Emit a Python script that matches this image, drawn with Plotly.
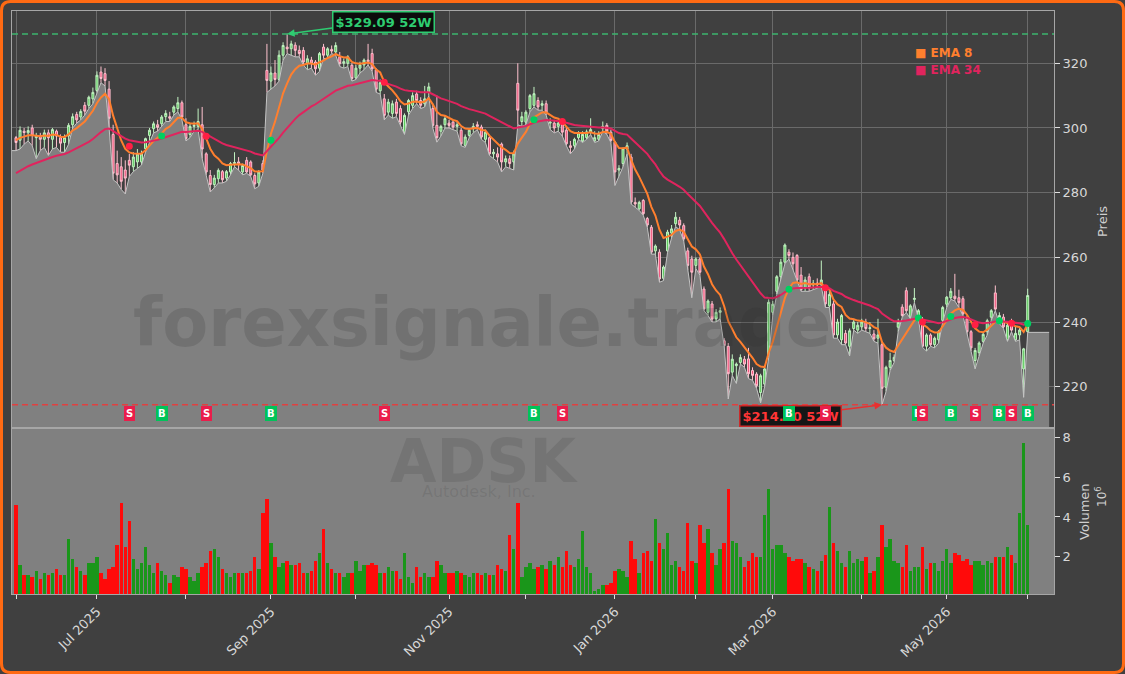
import plotly.graph_objects as go
from plotly.subplots import make_subplots

# ---------------- data ----------------
ticker = "ADSK"
company = "Autodesk, Inc."
watermark = "forexsignale.trade"

opens = [
    297.0, 296.2, 299.0, 298.5, 300.0, 297.0, 297.5, 296.5, 298.5, 296.5,
    299.0, 297.0, 295.5, 297.5, 301.0, 304.2, 303.4, 307.0, 307.0, 309.0,
    311.6, 317.3, 316.8, 312.0, 298.0, 289.0, 288.0, 287.0, 290.0, 288.0,
    289.5, 289.5, 293.6, 297.7, 299.8, 301.0, 301.3, 303.5, 303.5, 304.9,
    306.0, 307.8, 301.0, 298.0, 300.5, 300.5, 301.0, 292.0, 285.3, 282.5,
    284.3, 286.5, 284.5, 286.4, 289.0, 289.5, 286.4, 290.0, 289.5, 285.3,
    283.0, 289.0, 317.8, 314.5, 317.0, 315.0, 322.5, 325.0, 324.5, 325.6,
    324.0, 324.0, 320.0, 321.0, 320.4, 318.5, 325.0, 322.5, 324.3, 323.5,
    322.0, 320.0, 320.0, 319.4, 315.5, 318.5, 319.5, 321.0, 323.0, 318.0,
    311.5, 309.0, 304.9, 304.5, 308.0, 306.0, 298.7, 305.0, 307.0, 310.5,
    308.5, 307.5, 311.1, 306.0, 300.8, 299.0, 301.0, 301.5, 301.8, 300.5,
    299.3, 294.6, 297.7, 299.8, 301.0, 300.3, 296.5, 297.0, 292.0, 292.0,
    295.0, 289.5, 290.5, 289.5, 313.8, 302.0, 301.8, 306.0, 307.0, 308.5,
    307.0, 307.5, 301.5, 301.5, 300.5, 301.8, 299.3, 294.5, 294.5, 297.0,
    296.0, 297.0, 298.7, 296.0, 296.5, 299.8, 300.8, 298.7, 295.6, 287.0,
    289.0, 293.5, 291.0, 277.0, 275.0, 277.6, 272.0, 269.3, 262.0, 261.6,
    253.5, 262.0, 267.5, 270.4, 271.5, 269.8, 262.0, 259.5, 257.5, 259.5,
    250.2, 243.0, 245.6, 241.0, 243.0, 234.2, 232.5, 224.5, 226.5, 227.5,
    228.5, 228.6, 225.0, 223.9, 218.2, 220.8, 229.6, 243.0, 249.5, 254.0,
    258.5, 261.6, 260.0, 260.6, 254.5, 250.5, 254.0, 251.5, 252.0, 251.5,
    250.3, 245.0, 245.6, 236.0, 234.5, 236.5, 232.5, 238.0, 237.5, 238.5,
    240.0, 238.0, 236.3, 235.0, 233.0, 219.8, 226.0, 228.1, 238.4, 244.6,
    249.7, 241.5, 247.0, 241.5, 240.5, 232.5, 236.0, 233.0, 234.5, 240.5,
    245.5, 247.5, 248.0, 247.5, 247.2, 241.0, 237.0, 228.1, 230.5, 234.0,
    237.0, 241.5, 249.0, 240.5, 241.5, 234.5, 240.0, 234.5, 236.0, 225.5,
    237.0,
]
highs = [
    297.5, 300.5, 300.0, 300.5, 301.0, 298.5, 298.5, 299.5, 299.5, 300.0,
    299.5, 298.0, 298.0, 301.5, 304.5, 305.0, 305.8, 308.0, 310.0, 312.5,
    317.5, 319.0, 318.5, 314.5, 301.0, 293.0, 291.0, 290.0, 292.0, 292.5,
    293.5, 293.0, 297.0, 300.0, 302.0, 302.5, 304.0, 305.5, 305.0, 307.0,
    309.6, 308.5, 303.0, 301.5, 302.0, 306.0, 306.5, 292.5, 287.0, 285.5,
    287.5, 287.0, 287.0, 289.5, 292.5, 291.0, 289.0, 291.0, 290.0, 286.0,
    287.0, 290.0, 326.0, 319.0, 321.0, 324.0, 326.5, 329.09, 327.0, 326.5,
    325.5, 325.0, 322.5, 322.0, 321.0, 323.5, 326.0, 325.0, 325.5, 326.5,
    323.5, 321.5, 322.5, 320.0, 319.5, 320.5, 321.5, 326.0, 324.5, 318.5,
    315.0, 310.5, 309.0, 308.5, 309.0, 307.0, 304.5, 309.0, 311.0, 311.5,
    309.5, 313.0, 314.0, 307.5, 310.0, 301.0, 304.0, 302.5, 302.5, 302.0,
    300.0, 298.0, 300.0, 301.5, 302.0, 301.0, 299.5, 297.5, 293.5, 294.0,
    295.5, 291.5, 291.5, 293.0, 320.0, 305.0, 305.5, 310.5, 312.7, 309.5,
    308.5, 308.5, 303.0, 302.5, 302.0, 302.5, 300.0, 296.0, 297.0, 299.0,
    299.0, 299.5, 303.0, 299.0, 299.0, 302.0, 301.5, 299.5, 296.0, 288.5,
    294.0, 295.5, 292.0, 278.5, 277.5, 278.0, 272.5, 270.0, 264.0, 262.5,
    257.5, 268.5, 270.0, 274.0, 272.5, 270.5, 263.0, 260.5, 260.0, 260.0,
    251.0, 247.0, 246.5, 244.0, 244.5, 235.0, 233.5, 230.0, 227.5, 230.0,
    229.5, 232.0, 226.0, 224.5, 224.0, 226.0, 247.0, 246.5, 254.5, 259.5,
    264.3, 262.5, 261.5, 261.0, 257.0, 254.0, 255.0, 253.0, 253.5, 259.0,
    251.0, 250.0, 246.5, 241.0, 242.5, 237.5, 238.0, 241.0, 240.0, 241.0,
    241.0, 240.0, 237.5, 241.0, 234.0, 226.5, 230.5, 230.0, 241.0, 245.5,
    250.7, 245.5, 250.5, 244.0, 241.5, 236.5, 236.5, 235.5, 237.5, 245.0,
    248.0, 250.5, 254.9, 250.0, 248.0, 242.0, 237.5, 232.0, 234.0, 237.0,
    241.0, 244.0, 251.3, 243.0, 242.5, 240.0, 241.0, 238.5, 238.5, 232.0,
    250.3,
]
lows = [
    293.0, 293.5, 295.0, 296.0, 294.5, 290.5, 293.0, 294.0, 291.5, 293.5,
    294.0, 292.5, 292.5, 295.0, 300.0, 301.5, 302.5, 304.0, 306.0, 307.5,
    311.0, 314.0, 313.0, 300.0, 284.0, 283.0, 281.0, 279.6, 285.0, 286.5,
    287.5, 288.5, 292.5, 295.5, 298.5, 299.0, 300.5, 302.0, 302.0, 304.0,
    305.0, 302.5, 296.0, 297.0, 299.0, 299.5, 290.5, 285.5, 280.2, 281.5,
    283.0, 283.0, 283.5, 285.5, 288.0, 287.0, 285.5, 286.0, 285.0, 281.2,
    282.0, 286.0, 311.0, 312.0, 313.0, 314.5, 321.0, 323.0, 322.5, 322.0,
    322.0, 319.5, 318.0, 318.5, 316.3, 317.5, 321.5, 321.5, 323.0, 322.5,
    319.0, 318.5, 319.0, 314.5, 315.0, 317.0, 318.0, 319.5, 317.5, 311.0,
    310.5, 302.5, 304.0, 303.0, 303.5, 301.0, 298.0, 304.0, 306.0, 307.5,
    306.0, 306.5, 310.0, 300.0, 295.6, 297.5, 300.0, 300.0, 299.5, 299.0,
    294.5, 294.0, 297.0, 298.5, 299.5, 296.5, 295.5, 291.5, 290.5, 289.5,
    286.4, 288.0, 287.5, 287.0, 301.0, 300.5, 301.0, 305.0, 306.5, 305.5,
    305.5, 304.0, 299.5, 298.5, 299.0, 297.5, 294.5, 292.0, 293.5, 296.5,
    295.5, 296.5, 298.0, 295.5, 296.0, 299.0, 298.0, 295.5, 282.2, 285.0,
    288.0, 292.0, 276.5, 275.5, 274.5, 273.0, 269.3, 261.0, 261.0, 252.3,
    252.8, 261.5, 266.0, 269.5, 268.5, 265.0, 256.0, 247.5, 256.5, 254.5,
    243.5, 242.0, 240.0, 240.0, 241.0, 232.5, 216.2, 223.5, 221.0, 227.0,
    226.0, 222.5, 222.0, 219.5, 215.0, 220.0, 229.0, 242.0, 248.5, 253.0,
    258.0, 259.5, 256.0, 252.5, 249.5, 249.5, 249.5, 250.0, 250.5, 251.0,
    244.5, 244.5, 235.0, 235.0, 233.0, 233.0, 229.5, 237.5, 236.5, 237.5,
    237.0, 236.5, 234.0, 233.5, 214.4, 218.5, 225.0, 227.5, 237.0, 241.5,
    243.0, 241.0, 246.0, 241.0, 232.2, 231.0, 232.5, 232.0, 233.5, 240.0,
    244.5, 247.0, 246.5, 244.5, 242.0, 236.0, 231.0, 225.5, 229.5, 233.5,
    236.0, 240.5, 243.5, 239.5, 238.0, 234.0, 237.0, 234.0, 234.5, 216.7,
    236.8,
]
closes = [
    295.5, 299.3, 298.6, 299.2, 297.7, 297.5, 296.5, 298.5, 297.0, 299.5,
    297.5, 295.3, 297.0, 300.8, 303.5, 302.5, 305.1, 305.2, 309.5, 311.0,
    316.3, 315.3, 314.7, 303.0, 286.0, 285.5, 283.5, 284.5, 288.5, 291.0,
    292.0, 292.0, 296.7, 299.3, 301.3, 300.2, 303.4, 304.5, 303.0, 306.5,
    307.8, 303.4, 296.7, 300.5, 300.8, 302.0, 293.5, 286.4, 282.5, 284.5,
    286.9, 284.0, 286.5, 289.0, 289.3, 289.0, 288.4, 286.4, 285.5, 282.7,
    286.4, 287.0, 314.7, 317.0, 315.0, 322.5, 325.5, 324.5, 326.0, 324.0,
    323.0, 320.4, 321.4, 320.0, 318.3, 323.0, 322.5, 324.5, 323.8, 325.5,
    319.9, 320.5, 322.0, 315.3, 318.5, 319.5, 321.0, 320.5, 318.3, 312.0,
    314.0, 303.9, 308.0, 307.5, 304.5, 301.8, 303.9, 308.5, 310.0, 308.5,
    307.0, 309.0, 312.7, 300.8, 297.0, 300.5, 302.9, 300.8, 300.3, 301.0,
    295.1, 297.2, 299.3, 300.5, 300.5, 297.2, 298.7, 292.0, 292.5, 291.0,
    289.5, 290.5, 289.0, 292.0, 305.5, 303.5, 304.9, 310.0, 310.6, 306.5,
    307.5, 304.9, 301.8, 300.0, 301.5, 298.7, 295.1, 294.0, 296.5, 298.5,
    298.0, 298.8, 299.5, 297.0, 298.0, 300.5, 299.0, 296.1, 286.4, 287.5,
    293.6, 294.5, 277.1, 276.5, 277.0, 273.5, 270.0, 261.6, 263.5, 253.3,
    257.0, 267.8, 268.8, 272.4, 270.0, 265.7, 257.5, 255.4, 259.5, 255.4,
    244.0, 246.5, 240.9, 243.0, 243.5, 232.7, 224.0, 228.5, 227.0, 229.0,
    227.0, 224.0, 223.5, 220.3, 223.4, 225.5, 246.1, 245.5, 254.0, 258.5,
    263.8, 260.6, 258.0, 253.0, 250.0, 253.0, 250.5, 252.0, 251.5, 253.0,
    245.6, 248.5, 236.0, 240.0, 242.0, 233.5, 237.3, 240.0, 239.0, 240.0,
    238.0, 238.2, 234.8, 236.0, 219.5, 226.0, 228.1, 229.1, 239.9, 242.0,
    243.5, 245.0, 247.3, 243.5, 232.5, 236.0, 233.0, 235.0, 237.0, 244.5,
    247.7, 249.5, 247.2, 246.0, 242.5, 237.0, 232.0, 231.2, 233.5, 236.2,
    240.4, 243.5, 244.0, 242.0, 238.5, 239.0, 237.5, 236.5, 237.5, 231.7,
    248.2,
]
volumes_millions = [
    4.6, 1.6, 1.1, 1.1, 1.0, 1.3, 0.9, 1.2, 1.1, 1.2,
    1.4, 1.1, 1.1, 2.9, 1.9, 1.5, 1.3, 1.1, 1.7, 1.7,
    2.0, 1.2, 0.9, 1.4, 1.5, 2.6, 4.7, 2.5, 3.8, 1.9,
    1.4, 1.7, 2.5, 1.6, 1.2, 1.7, 1.3, 1.1, 0.7, 1.1,
    1.0, 1.5, 1.4, 1.0, 0.8, 1.2, 1.5, 1.7, 2.3, 2.4,
    2.0, 1.4, 1.2, 1.0, 1.2, 1.2, 1.2, 1.2, 1.3, 2.0,
    1.4, 4.2, 4.9, 2.7, 2.0, 1.5, 1.7, 1.8, 1.6, 1.6,
    1.7, 1.2, 1.2, 1.3, 1.8, 2.2, 3.4, 1.7, 1.4, 1.2,
    1.2, 1.0, 1.2, 1.2, 1.8, 1.3, 1.6, 1.6, 1.7, 1.6,
    1.2, 1.2, 1.5, 1.3, 1.3, 0.9, 2.2, 1.0, 0.7, 1.5,
    1.0, 1.2, 1.0, 1.0, 1.8, 1.6, 1.2, 1.2, 1.2, 1.3,
    1.2, 1.1, 1.0, 1.2, 1.2, 1.1, 1.2, 1.1, 1.1, 1.6,
    1.4, 1.3, 3.1, 2.4, 4.7, 1.0, 1.5, 1.7, 1.4, 1.5,
    1.6, 1.4, 1.8, 1.6, 2.0, 1.5, 2.3, 1.6, 1.5, 1.9,
    3.3, 1.5, 1.2, 0.3, 0.4, 0.6, 0.6, 0.7, 1.3, 1.4,
    1.3, 1.0, 2.8, 1.9, 1.2, 2.2, 2.3, 1.8, 3.9, 2.7,
    2.4, 3.2, 1.6, 1.8, 1.5, 1.3, 3.7, 1.8, 1.7, 3.6,
    2.7, 3.4, 2.2, 1.6, 2.4, 2.7, 5.4, 2.8, 2.7, 2.0,
    1.5, 1.8, 2.2, 2.0, 2.0, 4.1, 5.4, 2.4, 2.6, 2.6,
    2.2, 2.0, 1.8, 1.9, 1.9, 1.7, 1.5, 1.4, 1.3, 1.8,
    2.1, 4.5, 2.7, 2.3, 1.7, 1.5, 2.3, 1.7, 1.9, 1.8,
    2.0, 1.2, 1.3, 2.0, 3.6, 2.5, 2.9, 1.8, 1.7, 1.5,
    2.6, 1.3, 1.5, 1.5, 2.5, 1.4, 1.7, 1.7, 1.3, 1.8,
    2.4, 1.7, 2.2, 2.1, 1.8, 1.9, 1.6, 1.8, 1.8, 1.6,
    1.8, 1.7, 2.0, 2.0, 2.0, 2.5, 2.1, 1.7, 4.2, 7.7,
    3.6,
]
# month-start bars (trading-day index) and their labels
month_tick_idx = [0, 20, 42, 63, 84, 107, 126, 148, 168, 187, 209, 230, 250]
month_tick_text = ["", "Jul 2025", "", "Sep 2025", "", "Nov 2025", "",
                   "Jan 2026", "", "Mar 2026", "", "May 2026", ""]
# EMA crossover signals (bar index, side)
signal_idx = [28, 36, 47, 63, 91, 128, 135, 191, 200, 223, 224, 231, 237, 243, 246, 250]
signal_side = ["S", "B", "S", "B", "S", "B", "S", "B", "S", "B", "S", "B", "S", "B", "S", "B"]
ema_fast_span, ema_slow_span = 8, 34
ema_fast_seed, ema_slow_seed = 296.5, 285.5   # EMA values carried in from earlier history
price_ticks = [220, 240, 260, 280, 300, 320]
volume_ticks = [2, 4, 6, 8]

# ---------------- derived ----------------
N = len(closes)
idx = list(range(N))


def ema(vals, span, seed):
    a = 2.0 / (span + 1)
    out, prev = [], seed
    for v in vals:
        prev = a * v + (1 - a) * prev
        out.append(prev)
    return out


ema_fast = ema(closes, ema_fast_span, ema_fast_seed)
ema_slow = ema(closes, ema_slow_span, ema_slow_seed)
hi52 = max(highs)
lo52 = min(lows)
hi_j = highs.index(hi52)
lo_j = lows.index(lo52)

# ---------------- layout geometry ----------------
W, H = 1125, 674
ML, MR, MT, MB = 12, 71, 11, 80
PW, PH = W - ML - MR, H - MT - MB
SPLIT = 428  # pixel row between price and volume panes
price_frac = (SPLIT - MT) / PH
XR = [-0.99, 256.5]
YR = [207.23, 336.17]
VR = [0.13, 8.47]


def px_x(px):
    return (px - ML) / PW


def px_y(py):
    return 1 - (py - MT) / PH


def data_to_px(j, p):
    x = ML + (j - XR[0]) / (XR[1] - XR[0]) * PW
    y = MT + (YR[1] - p) / (YR[1] - YR[0]) * (SPLIT - MT)
    return x, y


FONT = "DejaVu Sans"
TXT = "#d8d8d8"
C_FAST = "#ff7f2e"
C_SLOW = "#e0245e"
C_BUY = "#00c35a"
C_SELL = "#ea1d4b"

fig = make_subplots(rows=2, cols=1, shared_xaxes=True, vertical_spacing=0,
                    row_heights=[price_frac, 1 - price_frac])

# area under the lows (extends flat to the right edge)
area_x = [XR[0]] + idx + [N - 1 + 5.3]
area_y = [lows[0]] + lows + [lows[-1]]
fig.add_trace(go.Scatter(x=area_x, y=area_y, mode="lines", fill="tozeroy",
                         fillcolor="#808080", line=dict(color="#c4c4c4", width=1),
                         hoverinfo="skip"), row=1, col=1)

fig.add_trace(go.Candlestick(
    x=idx, open=opens, high=highs, low=lows, close=closes,
    increasing=dict(line=dict(color="#c2f2c2", width=1), fillcolor="#5cc95c"),
    decreasing=dict(line=dict(color="#ffc2cf", width=1), fillcolor="#f0507a"),
    whiskerwidth=0, hoverinfo="skip"), row=1, col=1)

fig.add_trace(go.Scatter(x=idx, y=ema_fast, mode="lines",
                         line=dict(color=C_FAST, width=2), hoverinfo="skip"), row=1, col=1)
fig.add_trace(go.Scatter(x=idx, y=ema_slow, mode="lines",
                         line=dict(color=C_SLOW, width=2), hoverinfo="skip"), row=1, col=1)

for side, col in (("B", "#00d060"), ("S", "#ff1f44")):
    xs = [j for j, s in zip(signal_idx, signal_side) if s == side]
    ys = [(ema_fast[j] + ema_slow[j]) / 2 for j in xs]
    fig.add_trace(go.Scatter(x=xs, y=ys, mode="markers",
                             marker=dict(color=col, size=7), hoverinfo="skip"), row=1, col=1)

vol_colors = ["#1a961a" if c >= o else "#ff0a0a" for o, c in zip(opens, closes)]
fig.add_trace(go.Bar(x=idx, y=volumes_millions, marker=dict(color=vol_colors, line=dict(width=0)),
                     width=0.85, hoverinfo="skip"), row=2, col=1)

axis_line = "#a6a6a6"
fig.update_xaxes(range=XR, tickvals=month_tick_idx, showgrid=True, gridcolor="#6a6a6a",
                 gridwidth=1, showticklabels=False, ticks="", zeroline=False,
                 showline=True, mirror=True, linecolor=axis_line, linewidth=1,
                 rangeslider_visible=False, row=1, col=1)
fig.update_xaxes(range=XR, tickvals=month_tick_idx, ticktext=month_tick_text,
                 tickangle=-45, ticks="outside", ticklen=4, tickcolor="#e0e0e0",
                 tickfont=dict(family=FONT, size=13, color=TXT), showgrid=False,
                 zeroline=False, showline=True, mirror=True, linecolor=axis_line,
                 linewidth=1, automargin=False, row=2, col=1)
fig.update_yaxes(range=YR, side="right", tickvals=price_ticks, ticks="outside",
                 ticklen=5, tickcolor="#e0e0e0", tickfont=dict(family=FONT, size=13, color=TXT),
                 showgrid=True, gridcolor="#6a6a6a", zeroline=False, showline=True,
                 mirror=True, linecolor=axis_line, automargin=False, row=1, col=1)
fig.update_yaxes(range=VR, side="right", tickvals=volume_ticks, ticks="outside",
                 ticklen=5, tickcolor="#e0e0e0", tickfont=dict(family=FONT, size=13, color=TXT),
                 showgrid=False, zeroline=False, showline=True, mirror=True,
                 linecolor=axis_line, automargin=False, row=2, col=1)

shapes = [
    dict(type="rect", xref="x2 domain", yref="y2 domain", x0=0, x1=1, y0=0, y1=1,
         fillcolor="#808080", line=dict(width=0), layer="below"),
    dict(type="line", xref="x domain", yref="y", x0=0, x1=1, y0=hi52, y1=hi52,
         line=dict(color="#3cb46e", width=1.5, dash="6px,4px")),
    dict(type="line", xref="x domain", yref="y", x0=0, x1=1, y0=lo52, y1=lo52,
         line=dict(color="#e04040", width=1.5, dash="6px,4px")),
]
# rounded orange frame around the whole figure
x0p, x1p = px_x(1.5), px_x(W - 1.5)
y0p, y1p = px_y(H - 1.5), px_y(1.5)
rx, ry = 9 / PW, 9 / PH
frame = (f"M {x0p+rx},{y1p} L {x1p-rx},{y1p} Q {x1p},{y1p} {x1p},{y1p-ry} "
         f"L {x1p},{y0p+ry} Q {x1p},{y0p} {x1p-rx},{y0p} L {x0p+rx},{y0p} "
         f"Q {x0p},{y0p} {x0p},{y0p+ry} L {x0p},{y1p-ry} Q {x0p},{y1p} {x0p+rx},{y1p} Z")
shapes.append(dict(type="path", xref="paper", yref="paper", path=frame,
                   line=dict(color="#ff6a13", width=3)))


def label(text, px, py, size, color, xanchor="center", angle=0):
    return dict(text=text, x=px_x(px), y=px_y(py), xref="paper", yref="paper",
                xanchor=xanchor, yanchor="middle", textangle=angle, showarrow=False,
                font=dict(family=FONT, size=size, color=color))


ann = []
# watermarks
ann.append(label(f"<b>{watermark}</b>", 482, 323, 67, "rgba(40,40,40,0.17)"))
ann.append(label(f"<b>{ticker}</b>", 484, 461, 60, "rgba(40,40,40,0.13)"))
ann.append(label(company, 479, 492, 16, "rgba(40,40,40,0.12)"))
# legend
ann.append(label("<b>■ EMA 8</b>", 913, 53, 12, C_FAST, xanchor="left"))
ann.append(label("<b>■ EMA 34</b>", 913, 70, 12, C_SLOW, xanchor="left"))
# axis titles
ann.append(label("Preis", 1102, 222, 13, "#cfcfcf", angle=-90))
ann.append(label("Volumen", 1084, 512, 13, "#cfcfcf", angle=-90))
ann.append(label("10<sup>6</sup>", 1101, 497, 12, "#cfcfcf", angle=-90))
# 52-week labels
hx, hy = data_to_px(hi_j, hi52)
ann.append(dict(text=f"<b>${hi52:.2f} 52W</b>", x=hi_j, y=hi52, xref="x", yref="y",
                ax=383 - hx, ay=21.5 - hy, axref="pixel", ayref="pixel",
                showarrow=True, arrowhead=2, arrowsize=1, arrowwidth=1.5, arrowcolor="#2ecc71",
                bgcolor="#0c0c0c", bordercolor="#2ecc71", borderwidth=1.5, borderpad=2,
                font=dict(family=FONT, size=13, color="#2ecc71")))
lx, ly = data_to_px(lo_j, lo52)
ann.append(dict(text=f"<b>${lo52:.2f} 52W</b>", x=lo_j, y=lo52, xref="x", yref="y",
                ax=791 - lx, ay=416 - ly, axref="pixel", ayref="pixel",
                showarrow=True, arrowhead=2, arrowsize=1, arrowwidth=1.5, arrowcolor="#e83030",
                bgcolor="#161616", bordercolor="#cc2a2a", borderwidth=1.5, borderpad=2,
                font=dict(family=FONT, size=13, color="#ff3535")))
# B / S boxes along the bottom of the price pane
for j, s in zip(signal_idx, signal_side):
    col = C_BUY if s == "B" else C_SELL
    ann.append(dict(text=f"<b>{s}</b>", x=j, y=px_y(413), xref="x", yref="paper",
                    xanchor="center", yanchor="middle",
                    showarrow=False, bgcolor=col, bordercolor=col, borderwidth=1, borderpad=1,
                    font=dict(family=FONT, size=10, color="white")))

fig.update_layout(width=W, height=H, margin=dict(l=ML, r=MR, t=MT, b=MB),
                  paper_bgcolor="#404040", plot_bgcolor="#404040", showlegend=False,
                  hovermode=False, shapes=shapes, annotations=ann, bargap=0)

fig.write_html("out.html")
